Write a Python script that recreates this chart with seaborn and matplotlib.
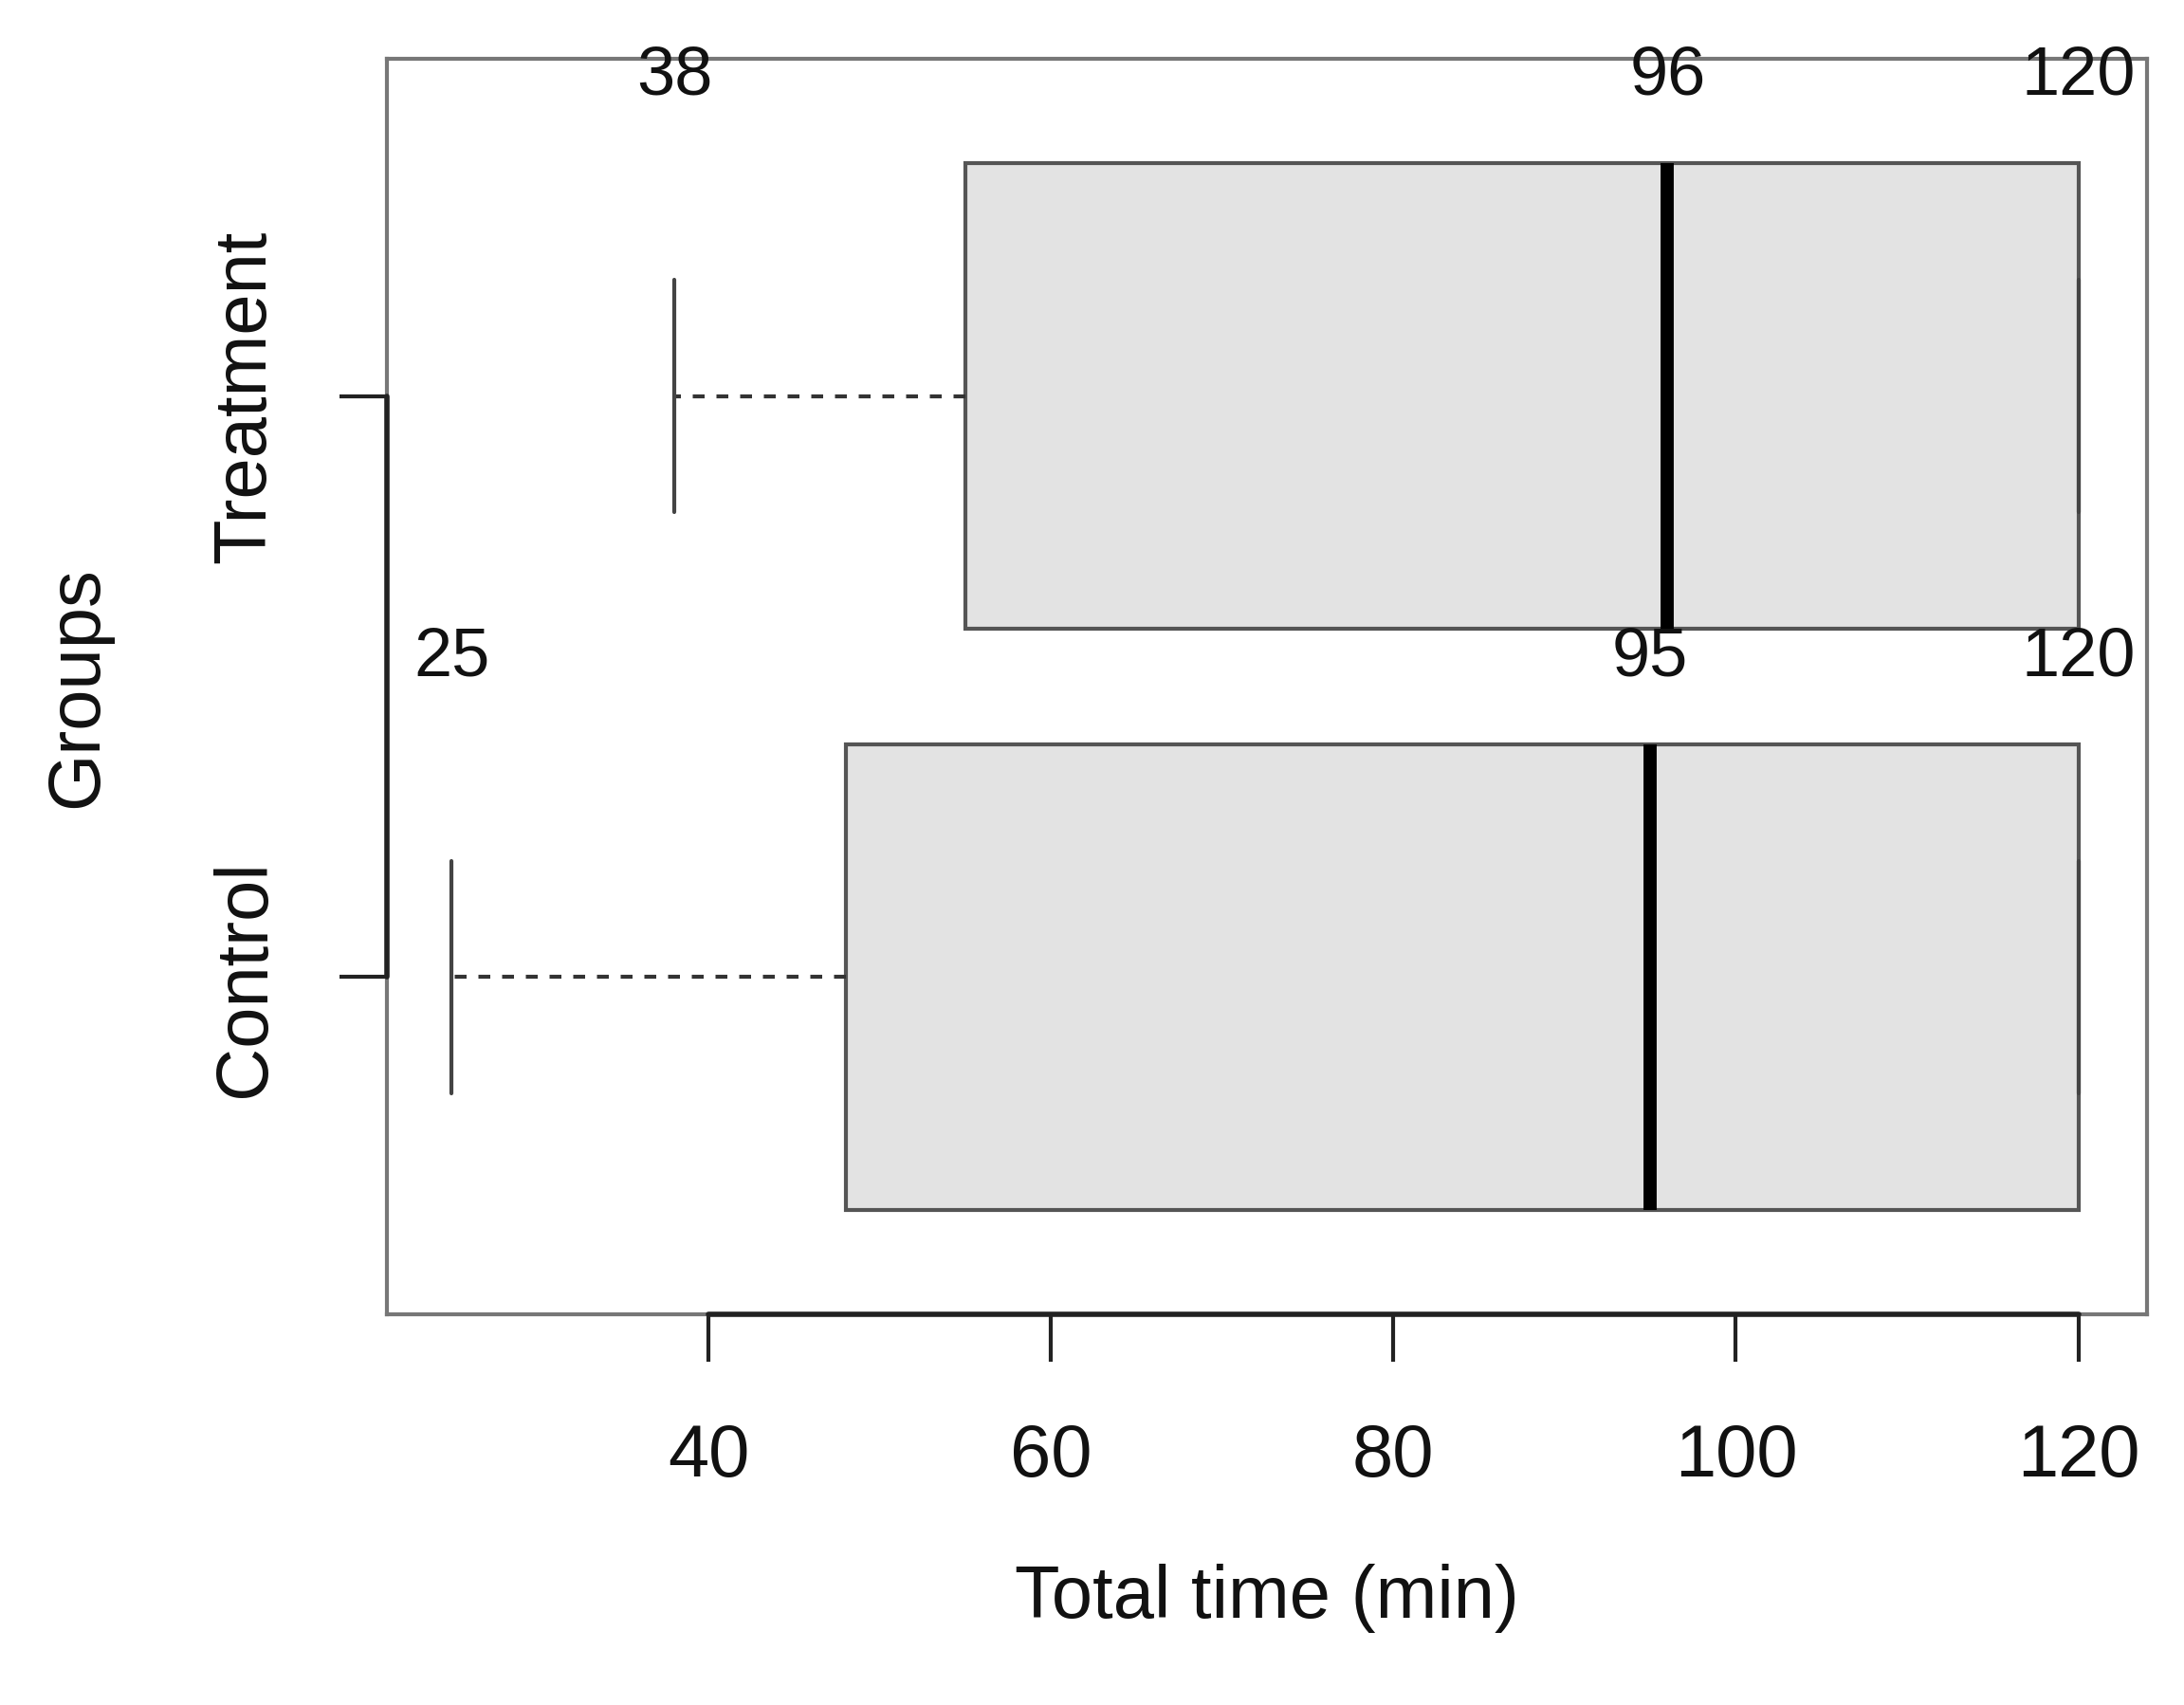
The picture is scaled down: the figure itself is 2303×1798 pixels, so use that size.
import numpy as np
import pandas as pd
import matplotlib.pyplot as plt
import seaborn as sns

# five-number summaries
groups = ["Control", "Treatment"]
control_vals = [25, 48, 95, 120, 120]
treatment_vals = [38, 55, 96, 120, 120]
label_vals = {"Control": [25, 95, 120], "Treatment": [38, 96, 120]}
xticks = [40, 60, 80, 100, 120]

df = pd.DataFrame({
    "group": ["Control"] * len(control_vals) + ["Treatment"] * len(treatment_vals),
    "time": control_vals + treatment_vals,
})

sns.set_theme(style="white")
plt.rcParams['font.family'] = ['Liberation Sans', 'DejaVu Sans']

fig = plt.figure(figsize=(23.03, 17.99), dpi=100)
ax = fig.add_axes([0.177, 0.229, 0.806, 0.736])

sns.boxplot(data=df, x="time", y="group", order=groups, orient="h", ax=ax,
            width=0.8, whis=1.5, color="#e3e3e3", saturation=1,
            linecolor="#555555", linewidth=3,
            medianprops=dict(color="black", linewidth=10),
            whiskerprops=dict(linestyle=(0, (3, 3)), color="#333333", linewidth=3),
            capprops=dict(color="#444444", linewidth=3), capwidths=0.4)

ax.set_xlim(21.2, 124.0)
ax.invert_yaxis()
ax.set_ylim(-0.58, 1.58)

for g_i, g in enumerate(groups):
    for v in label_vals[g]:
        ax.text(v, g_i + 0.55, str(v), ha="center", va="center", fontsize=52, color="#111111")

ax.set_xticks(xticks)
ax.set_xticklabels([str(t) for t in xticks])
ax.set_yticks([0, 1])
ax.set_yticklabels(groups, rotation=90, va="center")
ax.tick_params(axis="both", length=36, width=3, color="#222222", labelsize=56, direction="out",
               labelcolor="#111111", bottom=True, left=True)
ax.tick_params(axis="x", pad=45)
ax.tick_params(axis="y", pad=45)
for s in ax.spines.values():
    s.set_color("#777777")
    s.set_linewidth(3)
# R-style axis lines spanning the ticks only
ax.plot([21.2, 21.2], [0, 1], color="#222222", lw=4, clip_on=False, zorder=5)
ax.plot([40, 120], [-0.58, -0.58], color="#222222", lw=4, clip_on=False, zorder=5)

ax.set_xlabel("Total time (min)", fontsize=56, labelpad=55, color="#111111")
ax.set_ylabel("Groups", fontsize=56, labelpad=75, color="#111111")

fig.savefig("out.png", dpi=100)
